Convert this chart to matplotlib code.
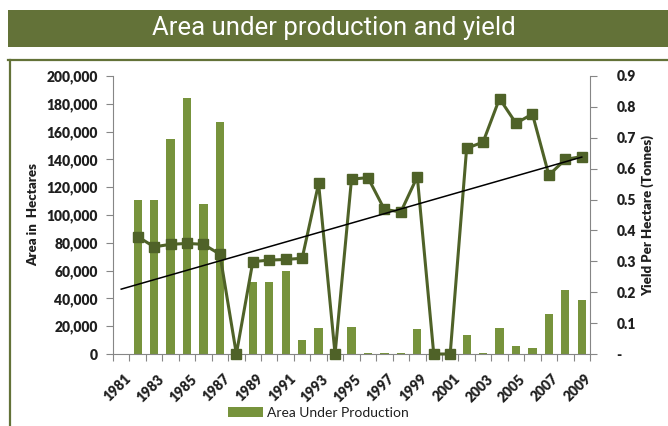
import numpy as np
import matplotlib.pyplot as plt
from matplotlib.patches import Rectangle
from matplotlib.lines import Line2D
from matplotlib.ticker import FuncFormatter
import matplotlib.transforms as mtransforms

years = list(range(1981, 2010))
# area under production (hectares), 1981 has no value
area = [0, 111000, 111000, 155000, 184000, 108000, 167000, 0, 52000, 52000,
        60000, 10000, 19000, 0, 19500, 1000, 500, 500, 18000, 0,
        0, 14000, 1000, 19000, 6000, 4000, 29000, 46000, 39000]
# yield per hectare (tonnes), starts 1982
yld = [0.38, 0.347, 0.355, 0.358, 0.355, 0.323, 0.0, 0.299, 0.304, 0.306,
       0.31, 0.552, 0.0, 0.566, 0.571, 0.468, 0.46, 0.574, 0.0, 0.0,
       0.666, 0.686, 0.827, 0.747, 0.777, 0.579, 0.63, 0.639]
left_ticks = [0, 20000, 40000, 60000, 80000, 100000, 120000, 140000, 160000, 180000, 200000]
right_ticks = [0, 0.1, 0.2, 0.3, 0.4, 0.5, 0.6, 0.7, 0.8, 0.9]

W, H = 668, 426
fig = plt.figure(figsize=(W / 100, H / 100), dpi=100)

olive = '#637238'
bar_c = '#77933C'
line_c = '#4F6228'
grey = '#868686'
txt = '#1f1f1f'
tick_font = ['Lato', 'DejaVu Sans']

# title bar
fig.patches.append(Rectangle((8 / W, 1 - 47 / H), 1 - 8 / W, 37 / H, transform=fig.transFigure,
                             facecolor=olive, edgecolor='none'))
fig.text(0.5, 1 - 28 / H, 'Area under production and yield', color='white', fontsize=18.5,
         family=['Roboto', 'DejaVu Sans'], ha='center', va='center')
# frame lines
fig.add_artist(Line2D([8 / W, 1], [1 - 59.5 / H] * 2, color=olive, lw=1.6, transform=fig.transFigure))
fig.add_artist(Line2D([9.5 / W] * 2, [0, 1 - 59.5 / H], color=olive, lw=1.6, transform=fig.transFigure))

ax = fig.add_axes([113 / W, 1 - 354 / H, (590 - 113) / W, (354 - 76) / H])
x = np.arange(len(years))
ax.bar(x, area, width=0.5, color=bar_c, label='Area Under Production', zorder=2)
ax.set_xlim(-0.5, len(years) - 0.5)
ax.set_ylim(0, 200000)
ax.set_yticks(left_ticks)
ax.yaxis.set_major_formatter(FuncFormatter(lambda v, p: f'{int(v):,}'))
ax.set_ylabel('Area in  Hectares', fontsize=9.5, fontweight='heavy', color=txt, family=tick_font, labelpad=5)

# x ticks: marks between categories, labels every other year
ax.set_xticks(np.arange(-0.5, len(years), 1.0))
ax.set_xticklabels([])
ax.set_xticks(x[::2], minor=True)
ax.set_xticklabels([str(y) for y in years[::2]], minor=True, rotation=45, ha='right',
                   rotation_mode='anchor', fontsize=10, fontweight='heavy', color=txt, family=tick_font)
ax.tick_params(axis='x', which='major', length=5, color=grey)
ax.tick_params(axis='x', which='minor', length=0, pad=13)
off = mtransforms.ScaledTranslation(3 / 100, 0, fig.dpi_scale_trans)
for lbl in ax.get_xticklabels(minor=True):
    lbl.set_transform(lbl.get_transform() + off)
ax.tick_params(axis='y', length=5, color=grey, labelsize=10, labelcolor=txt, pad=6)
for lbl in ax.get_yticklabels():
    lbl.set_fontweight('heavy')
    lbl.set_family(tick_font)
for s in ['top', 'right']:
    ax.spines[s].set_visible(False)
for s in ['left', 'bottom']:
    ax.spines[s].set_color(grey)

ax2 = ax.twinx()
xl = x[1:]
ax2.plot(xl, yld, color=line_c, lw=2.2, marker='s', ms=7.5, mfc=line_c, mec=line_c,
         clip_on=False, zorder=3, label='_nolegend_')
k, b = np.polyfit(xl, yld, 1)
ax2.plot([x[0], x[-1]], [k * x[0] + b, k * x[-1] + b], color='black', lw=1.1, zorder=4)
ax2.set_ylim(0, 0.9)
ax2.set_yticks(right_ticks)
ax2.yaxis.set_major_formatter(FuncFormatter(lambda v, p: '-' if abs(v) < 1e-9 else f'{v:.1f}'))
ax2.tick_params(axis='y', length=5, color=grey, labelsize=10, labelcolor=txt, pad=14)
for lbl in ax2.get_yticklabels():
    lbl.set_fontweight('heavy')
    lbl.set_family(tick_font)
ax2.set_ylabel('Yield Per Hectare (Tonnes)', fontsize=9.5, fontweight='heavy', color=txt,
               family=tick_font, labelpad=4)
for s in ['top', 'left', 'bottom']:
    ax2.spines[s].set_visible(False)
ax2.spines['right'].set_color(grey)

leg = ax.legend(loc='center left', bbox_to_anchor=(221 / W, 13 / H), bbox_transform=fig.transFigure,
                frameon=False, handlelength=2.5, handleheight=0.65, handletextpad=0.3,
                borderpad=0, prop={'family': tick_font, 'size': 10})
for t in leg.get_texts():
    t.set_color(txt)

fig.savefig('out.png', dpi=100)
